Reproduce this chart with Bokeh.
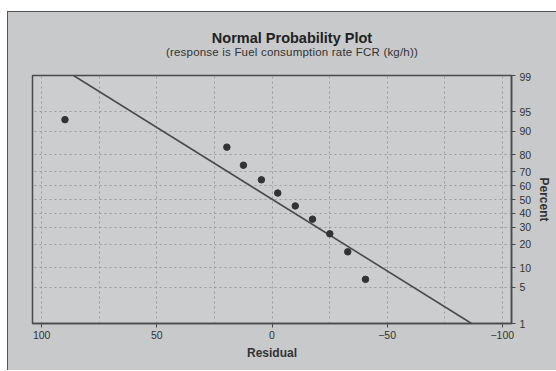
from statistics import NormalDist
import numpy as np
from bokeh.plotting import figure
from bokeh.layouts import column
from bokeh.models import (ColumnDataSource, Range1d, FixedTicker, CustomJSTickFormatter,
                          LinearAxis, Div)
from bokeh.embed import file_html
from bokeh.resources import INLINE

# ---- data ----
residual = [-40.6, -32.9, -25.1, -17.6, -10.1, -2.5, 4.6, 12.4, 19.6, 89.9]
percent = [6.7, 16.3, 26.0, 35.6, 45.2, 54.8, 64.4, 74.0, 83.7, 93.3]
pct_ticks = [1, 5, 10, 20, 30, 40, 50, 60, 70, 80, 90, 95, 99]
x_ticks = [100, 50, 0, -50, -100]
title_text = "Normal Probability Plot"
subtitle_text = "(response is Fuel consumption rate FCR (kg/h))"

nd = NormalDist()
z = [nd.inv_cdf(p / 100.0) for p in percent]
z_ticks = [nd.inv_cdf(p / 100.0) for p in pct_ticks]
z_lo, z_hi = nd.inv_cdf(0.01), nd.inv_cdf(0.99)

mu = float(np.mean(residual))
sd = float(np.std(residual, ddof=1))
line_z = [z_lo, z_hi]
line_x = [mu + sd * zz for zz in line_z]

BG = "#c7c9ca"
FR = "#cbcdce"
DARK = "#4a4a4a"
FONT = "Liberation Sans"
W = 546

p = figure(width=W, height=298, output_backend="svg", toolbar_location=None,
           x_range=Range1d(104, -104), y_range=Range1d(z_lo, z_hi),
           y_axis_location=None, x_axis_location=None,
           min_border_left=24, min_border_right=43, min_border_top=3, min_border_bottom=47)
p.border_fill_color = BG
p.background_fill_color = FR
p.outline_line_color = DARK
p.outline_line_width = 1.5

# axes
xa = LinearAxis(ticker=FixedTicker(ticks=x_ticks, minor_ticks=[75, 25, -25, -75]),
                axis_label="Residual")
ya = LinearAxis(ticker=FixedTicker(ticks=z_ticks),
                formatter=CustomJSTickFormatter(args=dict(zs=z_ticks, labs=[str(v) for v in pct_ticks]),
                    code="let b=0; for(let i=0;i<zs.length;i++){ if(Math.abs(zs[i]-tick)<Math.abs(zs[b]-tick)) b=i; } return labs[b];"),
                axis_label="Percent")
for ax in (xa, ya):
    ax.axis_line_color = DARK
    ax.axis_line_width = 1.5
    ax.major_tick_line_color = DARK
    ax.major_tick_out = 4
    ax.major_tick_in = 0
    ax.minor_tick_line_color = None
    ax.major_label_text_font = FONT
    ax.major_label_text_font_size = "10.5px"
    ax.major_label_text_color = "#333333"
    ax.axis_label_text_font = FONT
    ax.axis_label_text_font_size = "12px"
    ax.axis_label_text_font_style = "bold"
    ax.axis_label_text_color = "#333333"
xa.major_label_standoff = 3
ya.major_label_standoff = 4
xa.axis_label_standoff = 4
ya.axis_label_standoff = 3
p.add_layout(xa, "below")
p.add_layout(ya, "right")

p.xgrid.ticker = xa.ticker
p.ygrid.ticker = ya.ticker
for g in (p.xgrid, p.ygrid):
    g.grid_line_color = "#9a9c9d"
    g.grid_line_dash = "2 3"
    g.grid_line_width = 1
p.xgrid.minor_grid_line_color = "#9a9c9d"
p.xgrid.minor_grid_line_dash = "2 3"

src = ColumnDataSource(dict(x=residual, y=z))
p.line(line_x, line_z, line_color=DARK, line_width=1.6)
p.scatter("x", "y", source=src, size=6.5, fill_color="#333333", line_color="#333333")

head = Div(width=W, height=50, styles={"background": BG},
           text=(
               '<div style="position:relative;width:%dpx;height:50px;font-family:\'Liberation Sans\',sans-serif;">'
               '<div style="position:absolute;left:0;top:13px;width:%dpx;padding-left:12px;box-sizing:border-box;'
               'text-align:center;font-weight:bold;font-size:14.5px;line-height:16px;color:#222;">%s</div>'
               '<div style="position:absolute;left:0;top:29px;width:%dpx;padding-left:12px;box-sizing:border-box;'
               'text-align:center;font-size:11.5px;letter-spacing:0.2px;line-height:13px;color:#333;">%s</div></div>'
           ) % (W, W, title_text, W, subtitle_text))

lay = column(head, p, spacing=0)
lay.styles = {"margin-left": "7px", "margin-top": "11px", "background": BG,
              "border-left": "1px solid #555", "border-top": "1px solid #555"}

html = file_html(lay, INLINE)
html = html.replace("<body>", '<body style="background:%s">' % BG, 1)
open("out.html", "w").write(html)
